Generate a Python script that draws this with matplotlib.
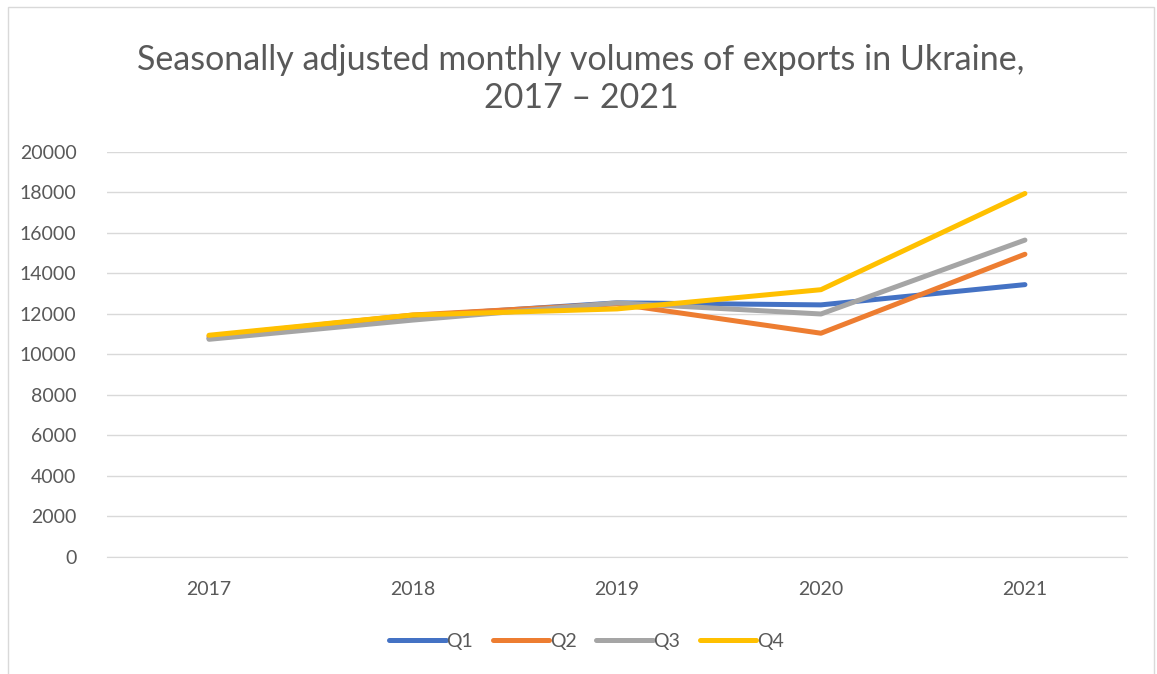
import numpy as np
import matplotlib.pyplot as plt
from matplotlib.patches import Rectangle

plt.rcParams['font.family'] = ['Lato', 'DejaVu Sans']

years = ['2017', '2018', '2019', '2020', '2021']
q1 = [10800, 11900, 12550, 12450, 13450]
q2 = [10900, 11950, 12500, 11050, 14950]
q3 = [10750, 11700, 12550, 12000, 15650]
q4 = [10950, 11950, 12250, 13200, 17950]

series = [('Q1', q1, '#4472C4'), ('Q2', q2, '#ED7D31'),
          ('Q3', q3, '#A5A5A5'), ('Q4', q4, '#FFC000')]

fig = plt.figure(figsize=(11.57, 6.74), dpi=100)
ax = fig.add_axes([0.0925, 0.1736, 0.8815, 0.6009])

x = np.arange(len(years))
for name, vals, color in series:
    ax.plot(x, vals, color=color, linewidth=3.6, label=name,
            solid_capstyle='round', solid_joinstyle='round')

ax.set_xlim(-0.5, len(years) - 0.5)
ax.set_ylim(0, 20000)
ax.set_yticks(np.arange(0, 20001, 2000))
ax.set_xticks(x)
ax.set_xticklabels(years)
ax.grid(axis='y', color='#d9d9d9', linewidth=1)
ax.set_axisbelow(True)
for s in ['top', 'right', 'left']:
    ax.spines[s].set_visible(False)
ax.spines['bottom'].set_color('#d9d9d9')
ax.tick_params(length=0, labelsize=14, colors='#595959', pad=17)
ax.tick_params(axis='y', pad=22)

fig.text(0.502, 0.883, 'Seasonally adjusted monthly volumes of exports in Ukraine,\n2017 \u2013 2021',
         ha='center', va='center', fontsize=24.5, color='#595959', linespacing=1.25)

leg = fig.legend(loc='center', bbox_to_anchor=(0.507, 0.048), ncol=4, frameon=False,
                 fontsize=14, handlelength=2.9, handletextpad=0.05, columnspacing=1.0)
for t in leg.get_texts():
    t.set_color('#595959')

fig.patches.append(Rectangle((0.007, -0.01), 0.99, 1.0, transform=fig.transFigure,
                             fill=False, edgecolor='#d9d9d9', linewidth=1))

fig.savefig('out.png', dpi=100)
